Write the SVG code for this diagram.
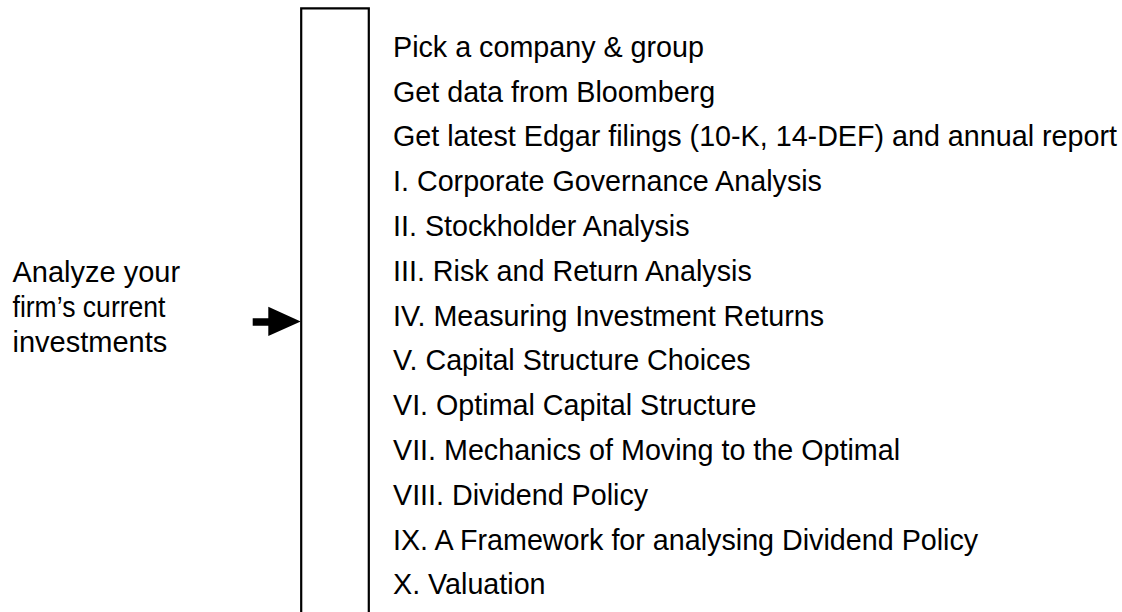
<svg xmlns="http://www.w3.org/2000/svg" width="1122" height="612" viewBox="0 0 1122 612">
<style>
.t{font-family:"Liberation Sans",Arial,sans-serif;fill:#000}
.r{font-size:28.7px}
.l{font-size:29px}
.frame{fill:none;stroke:#000;stroke-width:2.2}
</style>
<rect width="1122" height="612" fill="#fff"/>
<g id="input">
<text class="t l" x="12.5" y="281.7">Analyze your</text>
<text class="t l" x="12.5" y="316.7" textLength="153" lengthAdjust="spacingAndGlyphs">firm’s current</text>
<text class="t l" x="12.5" y="351.7">investments</text>
</g>
<g id="box">
<path class="frame" d="M301.2,612 V8.3 H368.8 V612"/>
</g>
<g id="connectors">
<path d="M252.7,318.3 H268.3 V306.7 L300.7,321.5 L268.3,336 V325.7 H252.7 Z" fill="#000"/>
</g>
<g id="steps">
<text class="t r" x="393" y="56.7">Pick a company &amp; group</text>
<text class="t r" x="393" y="101.5">Get data from Bloomberg</text>
<text class="t r" x="393" y="146.3">Get latest Edgar filings (10-K, 14-DEF) and annual report</text>
<text class="t r" x="393" y="191.1">I. Corporate Governance Analysis</text>
<text class="t r" x="393" y="235.9">II. Stockholder Analysis</text>
<text class="t r" x="393" y="280.7">III. Risk and Return Analysis</text>
<text class="t r" x="393" y="325.5">IV. Measuring Investment Returns</text>
<text class="t r" x="393" y="370.3">V. Capital Structure Choices</text>
<text class="t r" x="393" y="415.1">VI. Optimal Capital Structure</text>
<text class="t r" x="393" y="459.9">VII. Mechanics of Moving to the Optimal</text>
<text class="t r" x="393" y="504.7">VIII. Dividend Policy</text>
<text class="t r" x="393" y="549.5">IX. A Framework for analysing Dividend Policy</text>
<text class="t r" x="393" y="594.3">X. Valuation</text>
</g>
</svg>
